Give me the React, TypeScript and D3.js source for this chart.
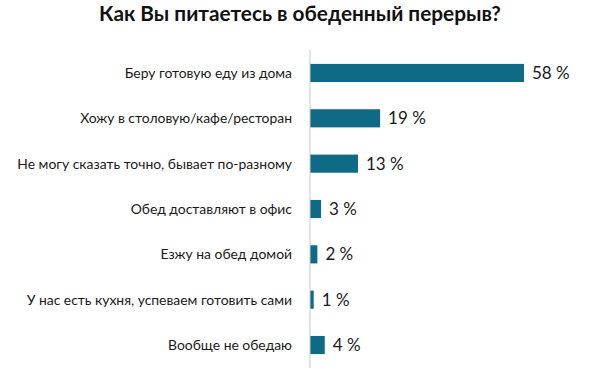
import React from "react";
import * as d3 from "d3";

const categories = [
  "Беру готовую еду из дома",
  "Хожу в столовую/кафе/ресторан",
  "Не могу сказать точно, бывает по-разному",
  "Обед доставляют в офис",
  "Езжу на обед домой",
  "У нас есть кухня, успеваем готовить сами",
  "Вообще не обедаю",
];
const values = [58, 19, 13, 3, 2, 1, 4];
const title = "Как Вы питаетесь в обеденный перерыв?";

const width = 600;
const height = 386;
const axisX = 310;

const App: React.FC = () => {
  const x = d3.scaleLinear().domain([0, 58]).range([axisX, 524]);
  const y = d3
    .scaleBand()
    .domain(categories)
    .range([50.3, 367.7])
    .paddingInner(0.6)
    .paddingOuter(0.3);

  const font = "Lato, 'Open Sans', sans-serif";

  return (
    <svg
      width={width}
      height={height}
      style={{ position: "absolute", left: 0, top: 0, background: "#fff" }}
    >
      <text
        x={300}
        y={21}
        textAnchor="middle"
        fontFamily={font}
        fontWeight="bold"
        fontSize={20.8}
        fill="#111"
      >
        {title}
      </text>
      {categories.map((c, i) => {
        const yc = (y(c) || 0) + y.bandwidth() / 2;
        return (
          <g key={c}>
            <text
              x={292}
              y={yc}
              dy="0.35em"
              textAnchor="end"
              fontFamily={font}
              fontSize={13.9}
              fill="#1a1a1a"
            >
              {c}
            </text>
            <rect
              x={axisX}
              y={y(c)}
              width={x(values[i]) - axisX}
              height={y.bandwidth()}
              fill="#0f6a85"
            />
            <text
              x={x(values[i]) + 8}
              y={yc}
              dy="0.36em"
              fontFamily={font}
              fontSize={17}
              fill="#1a1a1a"
            >
              {values[i]} %
            </text>
          </g>
        );
      })}
      <line
        x1={axisX}
        x2={axisX}
        y1={50}
        y2={368}
        stroke="#c8c8c8"
        strokeWidth={1}
      />
    </svg>
  );
};

export default App;
